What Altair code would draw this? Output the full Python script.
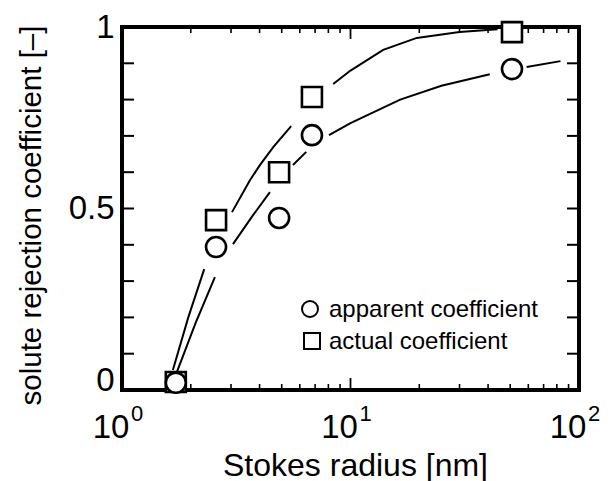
import altair as alt
import pandas as pd

# ---------------- data ----------------
radius = [1.72, 2.58, 4.87, 6.78, 50.9]
apparent = [0.020, 0.394, 0.474, 0.702, 0.884]
actual = [0.022, 0.468, 0.600, 0.807, 0.986]

# fitted curves (drawn broken around the markers as in the figure)
act_seg = [1, 1, 1, 2, 2, 2, 2, 2, 3, 3, 3, 3, 3, 3]
act_x = [1.67, 1.95, 2.29, 3.03, 3.63, 4.02, 4.6, 5.5, 8.4, 10, 13.9, 19.5, 30, 44]
act_y = [0.055, 0.20, 0.333, 0.49, 0.578, 0.62, 0.67, 0.727, 0.843, 0.88, 0.937, 0.97, 0.986, 0.994]

app_seg = [1, 1, 1, 2, 2, 2, 3, 3, 4, 4, 4, 4, 4, 5, 5]
app_x = [1.74, 2.1, 2.55, 3.06, 3.7, 4.44, 5.6, 6.4, 8.05, 10, 16.5, 25, 40.7, 59, 83]
app_y = [0.05, 0.185, 0.311, 0.402, 0.477, 0.545, 0.62, 0.656, 0.702, 0.735, 0.80, 0.838, 0.87, 0.89, 0.906]

series_names = ["apparent coefficient", "actual coefficient"]
series_shapes = ["circle", "square"]

y_minor = [0.1, 0.2, 0.3, 0.4, 0.5, 0.6, 0.7, 0.8, 0.9]
x_minor = [2, 3, 4, 5, 6, 7, 8, 9, 20, 30, 40, 50, 60, 70, 80, 90]
x_major = [10]
x_label_vals = [1, 10, 100]
x_label_base = ["10", "10", "10"]
x_label_exp = ["0", "1", "2"]
y_label_vals = [0, 0.5, 1]

x_title = "Stokes radius [nm]"
y_title = "solute rejection coefficient [–]"

# ---------------- chart ----------------
FONT = "Liberation Sans"
W, H = 457, 363

xs = alt.Scale(type="log", domain=[1, 100])
ys = alt.Scale(domain=[0, 1], nice=False)
shape_scale = alt.Scale(domain=series_names, range=series_shapes)

x_axis = alt.Axis(labels=False, ticks=False, domain=False, grid=False,
                  title=x_title, titleFont=FONT, titleFontSize=32,
                  titleFontWeight="normal", titleColor="black",
                  titleX=233, titleY=85, titleAlign="center",
                  titleBaseline="alphabetic")
y_axis = alt.Axis(values=y_label_vals, format=".1~f", ticks=False, domain=False,
                  grid=False, labelFont=FONT, labelFontSize=33, labelColor="black",
                  labelPadding=8,
                  labelBaseline={"condition": {"test": "datum.value == 0", "value": "alphabetic"},
                                 "value": "middle"},
                  title=y_title, titleFont=FONT, titleFontSize=29.5,
                  titleFontWeight="normal", titleColor="black",
                  titleX=-91, titleY=188, titleAngle=270,
                  titleAlign="center", titleBaseline="middle")

X = lambda f: alt.X(f, scale=xs, axis=x_axis, title=x_title)
Y = lambda f: alt.Y(f, scale=ys, axis=y_axis, title=y_title)

curves = pd.DataFrame({
    "x": act_x + app_x,
    "y": act_y + app_y,
    "seg": ["a%d" % s for s in act_seg] + ["p%d" % s for s in app_seg],
})
lines = alt.Chart(curves).mark_line(color="black", strokeWidth=2).encode(
    x=X("x:Q"), y=Y("y:Q"), detail="seg:N", order="x:Q")

pts = pd.DataFrame({
    "r": radius + radius,
    "v": actual + apparent,
    "kind": ["actual coefficient"] * 5 + ["apparent coefficient"] * 5,
})
points = alt.Chart(pts).mark_point(filled=True, fill="white", stroke="black",
                                   strokeWidth=2.6, size=400, opacity=1).encode(
    x=X("r:Q"), y=Y("v:Q"),
    shape=alt.Shape("kind:N", scale=shape_scale, legend=None),
)

# legend drawn inside the plot (symbol + label per series)
legend_layers = []
for i, name in enumerate(series_names):
    d = pd.DataFrame({"kind": [name]})
    sym = alt.Chart(d).mark_point(filled=True, fill="white", stroke="black",
                                  strokeWidth=2, size=256, opacity=1).encode(
        x=alt.value(188 + 2 * i), y=alt.value(282 + 32 * i),
        shape=alt.Shape("kind:N", scale=shape_scale, legend=None))
    txt = alt.Chart(d).mark_text(font=FONT, fontSize=24, align="left",
                                 baseline="alphabetic", color="black").encode(
        x=alt.value(207), y=alt.value(290 + 32 * i), text="kind:N")
    legend_layers += [sym, txt]

yt = pd.DataFrame({"y": y_minor})
left_ticks = alt.Chart(yt).mark_rule(color="black", strokeWidth=2).encode(
    y=Y("y:Q"), x=alt.value(0), x2=alt.value(12))
right_ticks = alt.Chart(yt).mark_rule(color="black", strokeWidth=2).encode(
    y=Y("y:Q"), x=alt.value(W - 12), x2=alt.value(W))

xt = pd.DataFrame({"x": x_minor})
xm = pd.DataFrame({"x": x_major})
bot_minor = alt.Chart(xt).mark_rule(color="black", strokeWidth=1.6).encode(
    x=X("x:Q"), y=alt.value(H), y2=alt.value(H - 6))
top_minor = alt.Chart(xt).mark_rule(color="black", strokeWidth=1.6).encode(
    x=X("x:Q"), y=alt.value(0), y2=alt.value(6))
bot_major = alt.Chart(xm).mark_rule(color="black", strokeWidth=1.8).encode(
    x=X("x:Q"), y=alt.value(H), y2=alt.value(H - 12))
top_major = alt.Chart(xm).mark_rule(color="black", strokeWidth=1.8).encode(
    x=X("x:Q"), y=alt.value(0), y2=alt.value(12))

lab = pd.DataFrame({"t": x_label_vals, "base": x_label_base, "exp": x_label_exp})
base_text = alt.Chart(lab).mark_text(font=FONT, fontSize=33, baseline="alphabetic",
                                     align="center", dx=-11, color="black").encode(
    x=X("t:Q"), y=alt.value(H + 48), text="base:N")
exp_text = alt.Chart(lab).mark_text(font=FONT, fontSize=22, baseline="alphabetic",
                                    align="center", dx=15, color="black").encode(
    x=X("t:Q"), y=alt.value(H + 31), text="exp:N")

chart = alt.layer(
    lines, left_ticks, right_ticks, bot_minor, top_minor, bot_major, top_major,
    points, base_text, exp_text, *legend_layers,
).properties(
    width=W, height=H,
    autosize=alt.AutoSizeParams(type="none"),
    padding={"left": 122, "top": 27, "right": 32, "bottom": 91},
    background="white",
).configure_view(stroke="black", strokeWidth=4)

chart.save("out.html", embed_options={"renderer": "svg", "actions": False})
